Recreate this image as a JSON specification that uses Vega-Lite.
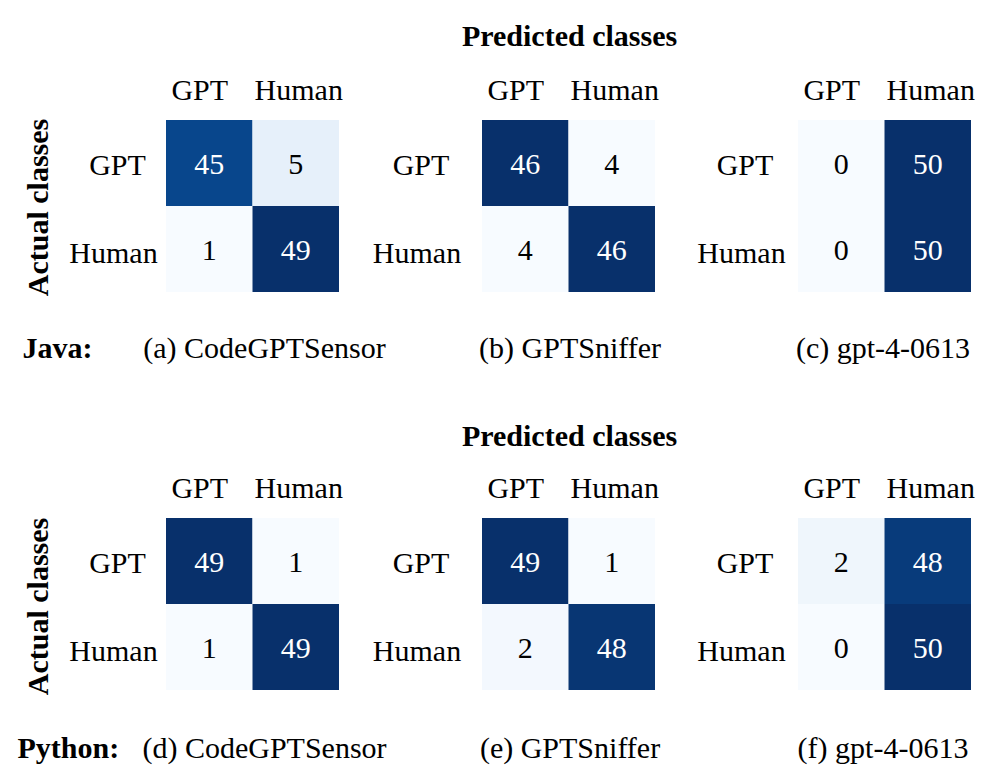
{
  "$schema": "https://vega.github.io/schema/vega-lite/v6.json",
  "padding": {"left": 17, "top": 21, "right": 5, "bottom": 5},
  "datasets": {
    "cm": [
      {"panel": "a", "act": "GPT", "pred": "GPT", "v": 45},
      {"panel": "a", "act": "GPT", "pred": "Human", "v": 5},
      {"panel": "a", "act": "Human", "pred": "GPT", "v": 1},
      {"panel": "a", "act": "Human", "pred": "Human", "v": 49},
      {"panel": "b", "act": "GPT", "pred": "GPT", "v": 46},
      {"panel": "b", "act": "GPT", "pred": "Human", "v": 4},
      {"panel": "b", "act": "Human", "pred": "GPT", "v": 4},
      {"panel": "b", "act": "Human", "pred": "Human", "v": 46},
      {"panel": "c", "act": "GPT", "pred": "GPT", "v": 0},
      {"panel": "c", "act": "GPT", "pred": "Human", "v": 50},
      {"panel": "c", "act": "Human", "pred": "GPT", "v": 0},
      {"panel": "c", "act": "Human", "pred": "Human", "v": 50},
      {"panel": "d", "act": "GPT", "pred": "GPT", "v": 49},
      {"panel": "d", "act": "GPT", "pred": "Human", "v": 1},
      {"panel": "d", "act": "Human", "pred": "GPT", "v": 1},
      {"panel": "d", "act": "Human", "pred": "Human", "v": 49},
      {"panel": "e", "act": "GPT", "pred": "GPT", "v": 49},
      {"panel": "e", "act": "GPT", "pred": "Human", "v": 1},
      {"panel": "e", "act": "Human", "pred": "GPT", "v": 2},
      {"panel": "e", "act": "Human", "pred": "Human", "v": 48},
      {"panel": "f", "act": "GPT", "pred": "GPT", "v": 2},
      {"panel": "f", "act": "GPT", "pred": "Human", "v": 48},
      {"panel": "f", "act": "Human", "pred": "GPT", "v": 0},
      {"panel": "f", "act": "Human", "pred": "Human", "v": 50}
    ]
  },
  "config": {
    "font": "Liberation Serif",
    "view": {"stroke": null},
    "axis": {
      "domain": false, "ticks": false, "grid": false,
      "labelFont": "Liberation Serif", "labelFontSize": 30, "labelColor": "black",
      "titleFont": "Liberation Serif", "titleFontSize": 30, "titleColor": "black",
      "titleFontWeight": "normal", "labelAngle": 0
    },
    "legend": {"disable": true}
  },
  "columns": 3,
  "bounds": "flush",
  "spacing": {"row": 226, "column": 143},
  "resolve": {"scale": {"color": "independent"}},
  "concat": [
    {
      "width": 173, "height": 172,
      "data": {"name": "cm"},
      "transform": [{"filter": "datum.panel === 'a'"}],
      "layer": [
        {
          "mark": "rect",
          "encoding": {
            "x": {"field": "pred", "type": "nominal", "axis": {"orient": "top", "title": null, "labelBaseline": "alphabetic", "labelPadding": 21, "labelAlign": "center", "labelOffset": {"condition": {"test": "datum.value === 'GPT'", "value": -9.5}, "value": 3}}},
            "y": {"field": "act", "type": "nominal", "axis": {"title": "Actual classes", "titleFontWeight": "bold", "titleAngle": -90, "titleX": -119, "titleY": 87, "titleAlign": "center", "titleBaseline": "alphabetic", "labelAlign": "center", "labelBaseline": "middle", "labelPadding": {"condition": {"test": "datum.value === 'GPT'", "value": 49}, "value": 53}, "labelOffset": {"condition": {"test": "datum.value === 'GPT'", "value": 2.5}, "value": 4.5}}},
            "color": {"field": "v", "type": "quantitative", "scale": {"range": ["#f7fbff", "#deebf7", "#c6dbef", "#9ecae1", "#6baed6", "#4292c6", "#2171b5", "#08519c", "#08306b"], "interpolate": "rgb"}}
          }
        },
        {
          "mark": {"type": "text", "fontSize": 30, "font": "Liberation Serif", "dy": 2},
          "encoding": {
            "x": {"field": "pred", "type": "nominal", "axis": {"orient": "bottom", "labels": false, "title": "(a) CodeGPTSensor", "titleX": 98, "titleY": 65, "titleAlign": "center", "titleBaseline": "alphabetic"}},
            "y": {"field": "act", "type": "nominal", "axis": {"orient": "right", "labels": false, "title": "Java:", "titleFontWeight": "bold", "titleAngle": 0, "titleX": -317, "titleY": 237, "titleAlign": "left", "titleBaseline": "alphabetic"}},
            "text": {"field": "v", "type": "quantitative"},
            "color": {"condition": {"test": "datum.v > 25", "value": "white"}, "value": "black"}
          }
        }
      ],
      "resolve": {"axis": {"x": "independent", "y": "independent"}}
    },
    {
      "width": 173, "height": 172,
      "data": {"name": "cm"},
      "transform": [{"filter": "datum.panel === 'b'"}],
      "layer": [
        {
          "mark": "rect",
          "encoding": {
            "x": {"field": "pred", "type": "nominal", "axis": {"orient": "top", "title": "Predicted classes", "titleFontWeight": "bold", "titleX": 87, "titleY": -75, "titleAlign": "center", "titleBaseline": "alphabetic", "labelBaseline": "alphabetic", "labelPadding": 21, "labelAlign": "center", "labelOffset": {"condition": {"test": "datum.value === 'GPT'", "value": -9.5}, "value": 3}}},
            "y": {"field": "act", "type": "nominal", "axis": {"title": null, "labelAlign": "center", "labelBaseline": "middle", "labelPadding": {"condition": {"test": "datum.value === 'GPT'", "value": 61.5}, "value": 65.5}, "labelOffset": {"condition": {"test": "datum.value === 'GPT'", "value": 2.5}, "value": 4.5}}},
            "color": {"field": "v", "type": "quantitative", "scale": {"range": ["#f7fbff", "#deebf7", "#c6dbef", "#9ecae1", "#6baed6", "#4292c6", "#2171b5", "#08519c", "#08306b"], "interpolate": "rgb"}}
          }
        },
        {
          "mark": {"type": "text", "fontSize": 30, "font": "Liberation Serif", "dy": 2},
          "encoding": {
            "x": {"field": "pred", "type": "nominal", "axis": {"orient": "bottom", "labels": false, "title": "(b) GPTSniffer", "titleX": 87.5, "titleY": 65, "titleAlign": "center", "titleBaseline": "alphabetic"}},
            "y": {"field": "act", "type": "nominal", "axis": null},
            "text": {"field": "v", "type": "quantitative"},
            "color": {"condition": {"test": "datum.v > 25", "value": "white"}, "value": "black"}
          }
        }
      ],
      "resolve": {"axis": {"x": "independent", "y": "independent"}}
    },
    {
      "width": 173, "height": 172,
      "data": {"name": "cm"},
      "transform": [{"filter": "datum.panel === 'c'"}],
      "layer": [
        {
          "mark": "rect",
          "encoding": {
            "x": {"field": "pred", "type": "nominal", "axis": {"orient": "top", "title": null, "labelBaseline": "alphabetic", "labelPadding": 21, "labelAlign": "center", "labelOffset": {"condition": {"test": "datum.value === 'GPT'", "value": -9.5}, "value": 3}}},
            "y": {"field": "act", "type": "nominal", "axis": {"title": null, "labelAlign": "center", "labelBaseline": "middle", "labelPadding": {"condition": {"test": "datum.value === 'GPT'", "value": 53.5}, "value": 57}, "labelOffset": {"condition": {"test": "datum.value === 'GPT'", "value": 2.5}, "value": 4.5}}},
            "color": {"field": "v", "type": "quantitative", "scale": {"range": ["#f7fbff", "#deebf7", "#c6dbef", "#9ecae1", "#6baed6", "#4292c6", "#2171b5", "#08519c", "#08306b"], "interpolate": "rgb"}}
          }
        },
        {
          "mark": {"type": "text", "fontSize": 30, "font": "Liberation Serif", "dy": 2},
          "encoding": {
            "x": {"field": "pred", "type": "nominal", "axis": {"orient": "bottom", "labels": false, "title": "(c) gpt-4-0613", "titleX": 84.5, "titleY": 65, "titleAlign": "center", "titleBaseline": "alphabetic"}},
            "y": {"field": "act", "type": "nominal", "axis": null},
            "text": {"field": "v", "type": "quantitative"},
            "color": {"condition": {"test": "datum.v > 25", "value": "white"}, "value": "black"}
          }
        }
      ],
      "resolve": {"axis": {"x": "independent", "y": "independent"}}
    },
    {
      "width": 173, "height": 172,
      "data": {"name": "cm"},
      "transform": [{"filter": "datum.panel === 'd'"}],
      "layer": [
        {
          "mark": "rect",
          "encoding": {
            "x": {"field": "pred", "type": "nominal", "axis": {"orient": "top", "title": null, "labelBaseline": "alphabetic", "labelPadding": 21, "labelAlign": "center", "labelOffset": {"condition": {"test": "datum.value === 'GPT'", "value": -9.5}, "value": 3}}},
            "y": {"field": "act", "type": "nominal", "axis": {"title": "Actual classes", "titleFontWeight": "bold", "titleAngle": -90, "titleX": -119, "titleY": 88, "titleAlign": "center", "titleBaseline": "alphabetic", "labelAlign": "center", "labelBaseline": "middle", "labelPadding": {"condition": {"test": "datum.value === 'GPT'", "value": 49}, "value": 53}, "labelOffset": {"condition": {"test": "datum.value === 'GPT'", "value": 2.5}, "value": 4.5}}},
            "color": {"field": "v", "type": "quantitative", "scale": {"range": ["#f7fbff", "#deebf7", "#c6dbef", "#9ecae1", "#6baed6", "#4292c6", "#2171b5", "#08519c", "#08306b"], "interpolate": "rgb"}}
          }
        },
        {
          "mark": {"type": "text", "fontSize": 30, "font": "Liberation Serif", "dy": 2},
          "encoding": {
            "x": {"field": "pred", "type": "nominal", "axis": {"orient": "bottom", "labels": false, "title": "(d) CodeGPTSensor", "titleX": 98, "titleY": 67.5, "titleAlign": "center", "titleBaseline": "alphabetic"}},
            "y": {"field": "act", "type": "nominal", "axis": {"orient": "right", "labels": false, "title": "Python:", "titleFontWeight": "bold", "titleAngle": 0, "titleX": -322, "titleY": 239.5, "titleAlign": "left", "titleBaseline": "alphabetic"}},
            "text": {"field": "v", "type": "quantitative"},
            "color": {"condition": {"test": "datum.v > 25", "value": "white"}, "value": "black"}
          }
        }
      ],
      "resolve": {"axis": {"x": "independent", "y": "independent"}}
    },
    {
      "width": 173, "height": 172,
      "data": {"name": "cm"},
      "transform": [{"filter": "datum.panel === 'e'"}],
      "layer": [
        {
          "mark": "rect",
          "encoding": {
            "x": {"field": "pred", "type": "nominal", "axis": {"orient": "top", "title": "Predicted classes", "titleFontWeight": "bold", "titleX": 87, "titleY": -73, "titleAlign": "center", "titleBaseline": "alphabetic", "labelBaseline": "alphabetic", "labelPadding": 21, "labelAlign": "center", "labelOffset": {"condition": {"test": "datum.value === 'GPT'", "value": -9.5}, "value": 3}}},
            "y": {"field": "act", "type": "nominal", "axis": {"title": null, "labelAlign": "center", "labelBaseline": "middle", "labelPadding": {"condition": {"test": "datum.value === 'GPT'", "value": 61.5}, "value": 65.5}, "labelOffset": {"condition": {"test": "datum.value === 'GPT'", "value": 2.5}, "value": 4.5}}},
            "color": {"field": "v", "type": "quantitative", "scale": {"range": ["#f7fbff", "#deebf7", "#c6dbef", "#9ecae1", "#6baed6", "#4292c6", "#2171b5", "#08519c", "#08306b"], "interpolate": "rgb"}}
          }
        },
        {
          "mark": {"type": "text", "fontSize": 30, "font": "Liberation Serif", "dy": 2},
          "encoding": {
            "x": {"field": "pred", "type": "nominal", "axis": {"orient": "bottom", "labels": false, "title": "(e) GPTSniffer", "titleX": 87.5, "titleY": 67.5, "titleAlign": "center", "titleBaseline": "alphabetic"}},
            "y": {"field": "act", "type": "nominal", "axis": null},
            "text": {"field": "v", "type": "quantitative"},
            "color": {"condition": {"test": "datum.v > 25", "value": "white"}, "value": "black"}
          }
        }
      ],
      "resolve": {"axis": {"x": "independent", "y": "independent"}}
    },
    {
      "width": 173, "height": 172,
      "data": {"name": "cm"},
      "transform": [{"filter": "datum.panel === 'f'"}],
      "layer": [
        {
          "mark": "rect",
          "encoding": {
            "x": {"field": "pred", "type": "nominal", "axis": {"orient": "top", "title": null, "labelBaseline": "alphabetic", "labelPadding": 21, "labelAlign": "center", "labelOffset": {"condition": {"test": "datum.value === 'GPT'", "value": -9.5}, "value": 3}}},
            "y": {"field": "act", "type": "nominal", "axis": {"title": null, "labelAlign": "center", "labelBaseline": "middle", "labelPadding": {"condition": {"test": "datum.value === 'GPT'", "value": 53.5}, "value": 57}, "labelOffset": {"condition": {"test": "datum.value === 'GPT'", "value": 2.5}, "value": 4.5}}},
            "color": {"field": "v", "type": "quantitative", "scale": {"range": ["#f7fbff", "#deebf7", "#c6dbef", "#9ecae1", "#6baed6", "#4292c6", "#2171b5", "#08519c", "#08306b"], "interpolate": "rgb"}}
          }
        },
        {
          "mark": {"type": "text", "fontSize": 30, "font": "Liberation Serif", "dy": 2},
          "encoding": {
            "x": {"field": "pred", "type": "nominal", "axis": {"orient": "bottom", "labels": false, "title": "(f) gpt-4-0613", "titleX": 84.5, "titleY": 67.5, "titleAlign": "center", "titleBaseline": "alphabetic"}},
            "y": {"field": "act", "type": "nominal", "axis": null},
            "text": {"field": "v", "type": "quantitative"},
            "color": {"condition": {"test": "datum.v > 25", "value": "white"}, "value": "black"}
          }
        }
      ],
      "resolve": {"axis": {"x": "independent", "y": "independent"}}
    }
  ]
}
